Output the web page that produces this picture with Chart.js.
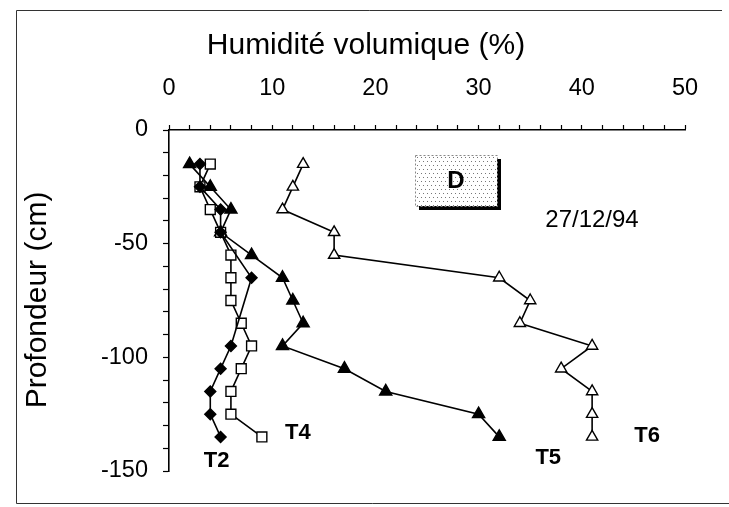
<!DOCTYPE html>
<html>
<head>
<meta charset="utf-8">
<script src="https://cdn.jsdelivr.net/npm/chart.js@4"></script>
<style>
  html, body { margin: 0; padding: 0; background: #fff; }
</style>
</head>
<body>
<canvas id="profil" width="729" height="507"></canvas>
<script>
// Soil moisture profiles, 27/12/94 (depth in cm, moisture in %)
const depths = [-15, -25, -35, -45, -55, -65, -75, -85, -95, -105, -115, -125, -135];

const t2Depths = [-15, -25, -35, -45, -65, -95, -105, -115, -125, -135];
const t2Values = [3, 3, 5, 5, 8, 6, 5, 4, 4, 5];

const t4Values = [4, 3, 4, 5, 6, 6, 6, 7, 8, 7, 6, 6, 9];
const t5Values = [2, 4, 6, 5, 8, 11, 12, 13, 11, 17, 21, 30, 32];
const t6Values = [13, 12, 11, 16, 16, 32, 35, 34, 41, 38, 41, 41, 41];

const xTicks = [0, 10, 20, 30, 40, 50];
const yTicks = [0, -50, -100, -150];

const FONT = "'Liberation Sans', Arial, sans-serif";

function points(ys, xs) {
  return ys.map((y, i) => ({ x: xs[i], y: y }));
}

function series(label, ys, xs, style, fill, radius, tag) {
  return {
    label: label,
    data: points(ys, xs),
    showLine: true,
    borderColor: '#000',
    borderWidth: 1.6,
    pointStyle: style,
    pointRadius: radius,
    pointBackgroundColor: fill,
    pointBorderColor: '#000',
    pointBorderWidth: 1.4,
    tag: tag
  };
}

// frame, axis titles, box "D", date and curve names
const decorations = {
  id: 'decorations',
  beforeDraw(chart) {
    const ctx = chart.ctx;
    ctx.save();
    ctx.strokeStyle = '#333';
    ctx.lineWidth = 1;
    ctx.beginPath();
    ctx.moveTo(722, 10.5);
    ctx.lineTo(16.5, 10.5);
    ctx.lineTo(16.5, 503.5);
    ctx.lineTo(729, 503.5);
    ctx.stroke();
    ctx.restore();
  },
  afterDraw(chart) {
    const ctx = chart.ctx;
    ctx.save();
    ctx.fillStyle = '#000';
    ctx.textAlign = 'center';
    ctx.textBaseline = 'middle';

    ctx.font = '30px ' + FONT;
    ctx.fillText('Humidité volumique (%)', 366, 46);

    ctx.save();
    ctx.translate(38, 300);
    ctx.rotate(-Math.PI / 2);
    ctx.fillText('Profondeur (cm)', 0, 0);
    ctx.restore();

    ctx.font = '24px ' + FONT;
    ctx.fillText('27/12/94', 592, 220);

    // shaded label box
    const bx = 415, by = 155, bw = 82, bh = 51;
    ctx.fillStyle = '#000';
    ctx.fillRect(bx + 4, by + 4, bw, bh);
    ctx.fillStyle = '#fff';
    ctx.fillRect(bx, by, bw, bh);
    ctx.fillStyle = '#777';
    for (let yy = by + 2, row = 0; yy < by + bh; yy += 4, row++) {
      for (let xx = bx + 2 + (row % 2) * 2; xx < bx + bw; xx += 4) {
        ctx.fillRect(xx, yy, 1, 1);
      }
    }
    ctx.strokeStyle = '#888';
    ctx.setLineDash([2, 2]);
    ctx.strokeRect(bx + 0.5, by + 0.5, bw, bh);
    ctx.setLineDash([]);
    ctx.fillStyle = '#000';
    ctx.font = 'bold 24px ' + FONT;
    ctx.fillText('D', bx + bw / 2, by + bh / 2 + 1);

    // curve names next to the deepest point
    ctx.font = 'bold 22px ' + FONT;
    chart.data.datasets.forEach((ds, i) => {
      const meta = chart.getDatasetMeta(i);
      const last = meta.data[meta.data.length - 1];
      ctx.fillText(ds.label, last.x + ds.tag[0], last.y + ds.tag[1]);
    });
    ctx.restore();
  }
};

new Chart(document.getElementById('profil'), {
  type: 'scatter',
  data: {
    datasets: [
      series('T2', t2Depths, t2Values, 'rectRot', '#000', 5.5, [-4, 24]),
      series('T4', depths, t4Values, 'rect', '#fff', 7, [36, -4]),
      series('T5', depths, t5Values, 'triangle', '#000', 7, [49, 21]),
      series('T6', depths, t6Values, 'triangle', '#fff', 6.5, [55, -1])
    ]
  },
  options: {
    responsive: false,
    animation: false,
    devicePixelRatio: 1,
    layout: { autoPadding: false, padding: { left: 0, top: 0, right: 44, bottom: 36 } },
    plugins: { legend: { display: false }, tooltip: { enabled: false } },
    scales: {
      x: {
        type: 'linear',
        position: 'top',
        min: 0,
        max: 50,
        afterFit(scale) { scale.height = 130; },
        ticks: {
          stepSize: 2,
          autoSkip: false,
          maxRotation: 0,
          padding: 22,
          color: '#000',
          font: { family: FONT, size: 23.5 },
          callback: v => xTicks.includes(v) ? String(v) : ''
        },
        grid: { drawOnChartArea: false, tickLength: 5, tickColor: '#000', tickWidth: 1.2 },
        border: { color: '#000', width: 1.6 }
      },
      y: {
        type: 'linear',
        min: -150,
        max: 0,
        afterFit(scale) { scale.width = 169; },
        ticks: {
          stepSize: 10,
          autoSkip: false,
          padding: 15,
          color: '#000',
          font: { family: FONT, size: 23.5 },
          callback: v => yTicks.includes(v) ? String(v) : ''
        },
        grid: { drawOnChartArea: false, tickLength: 6, tickColor: '#000', tickWidth: 1.2 },
        border: { color: '#000', width: 1.6 }
      }
    }
  },
  plugins: [decorations]
});
</script>
</body>
</html>
